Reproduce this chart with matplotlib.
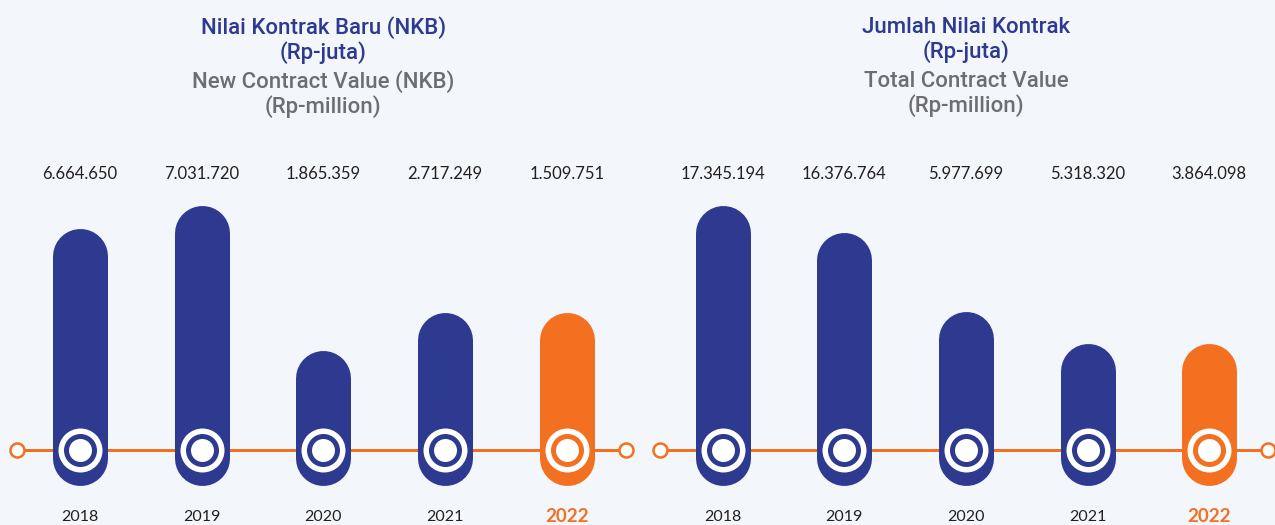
import matplotlib
matplotlib.use("Agg")
import matplotlib.pyplot as plt

# data
years = ["2018", "2019", "2020", "2021", "2022"]
nkb_values = [6664650, 7031720, 1865359, 2717249, 1509751]
total_values = [17345194, 16376764, 5977699, 5318320, 3864098]
# bar lengths as drawn in the infographic (px above the baseline)
nkb_len = [222, 245, 100, 138, 138]
total_len = [245, 218, 139, 107, 107]

titles_id = ["Nilai Kontrak Baru (NKB)\n(Rp-juta)", "Jumlah Nilai Kontrak\n(Rp-juta)"]
titles_en = ["New Contract Value (NKB)\n(Rp-million)", "Total Contract Value\n(Rp-million)"]

BLUE = "#2d3a8f"
ORANGE = "#f37021"
GRAY = "#6d6e71"
BG = "#f3f7fc"

fig = plt.figure(figsize=(12.75, 5.25), dpi=100, facecolor=BG)

step = 121.7   # px per category
bar_w = 55     # px
pt = 0.72      # points per px at 100 dpi


def fmt(v):
    return f"{v:,}".replace(",", ".")


def panel(rect, x0_px, values, lens, t_id, t_en):
    ax = fig.add_axes(rect)
    ax.set_facecolor("none")
    width_px = rect[2] * 1275
    ax.set_xlim(-x0_px / step, (width_px - x0_px) / step)
    ax.set_ylim(-75, 450)
    ax.axis("off")
    n = len(values)

    # orange timeline
    ax.plot([-0.515, n - 1 + 0.485], [0, 0], color=ORANGE, lw=3 * pt, zorder=1)
    ax.scatter([-0.515, n - 1 + 0.485], [0, 0], s=(14 * pt) ** 2,
               facecolor="white", edgecolor=ORANGE, linewidth=2.5 * pt, zorder=2)

    for i, (v, h) in enumerate(zip(values, lens)):
        c = ORANGE if i == n - 1 else BLUE
        ax.plot([i, i], [-35 + bar_w / 2, h - bar_w / 2], color=c,
                lw=bar_w * pt, solid_capstyle="round", zorder=3)
        ax.scatter([i], [0], s=(44 * pt) ** 2, color="white", lw=0, zorder=4)
        ax.scatter([i], [0], s=(33 * pt) ** 2, color=c, lw=0, zorder=5)
        ax.scatter([i], [0], s=(23 * pt) ** 2, color="white", lw=0, zorder=6)
        ax.text(i, 276, fmt(v), ha="center", va="center", fontsize=12,
                family="Lato", color="#231f20")
        if i == n - 1:
            ax.text(i, -67, years[i], ha="center", va="center", fontsize=13.5,
                    family="Lato", fontweight="bold", color=ORANGE)
        else:
            ax.text(i, -67, years[i], ha="center", va="center", fontsize=11.5,
                    family="Lato", color="#231f20")

    ax.text(2, 410, t_id, ha="center", va="center", fontsize=16,
            family="Roboto", fontweight="medium", color=BLUE, linespacing=1.1)
    ax.text(2, 356, t_en, ha="center", va="center", fontsize=16,
            family="Roboto", fontweight="medium", color=GRAY, linespacing=1.1)


panel([0, 0, 640 / 1275, 1], 80, nkb_values, nkb_len, titles_id[0], titles_en[0])
panel([640 / 1275, 0, 635 / 1275, 1], 82.5, total_values, total_len, titles_id[1], titles_en[1])

fig.savefig("out.png", dpi=100, facecolor=BG)
